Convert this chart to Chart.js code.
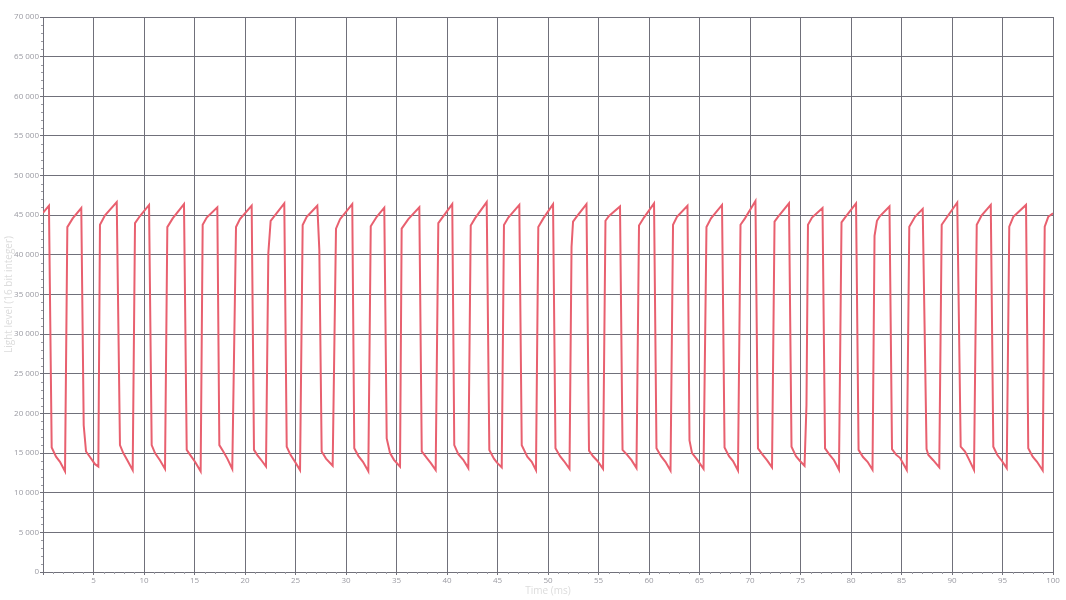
<!DOCTYPE html>
<html>
<head>
<meta charset="utf-8">
<script src="https://cdn.jsdelivr.net/npm/chart.js@4.4.0/dist/chart.umd.min.js"></script>
<style>
  html, body { margin: 0; padding: 0; background: #fff; }
  canvas { display: block; }
</style>
</head>
<body>
<canvas id="lightChart" width="1066" height="600"></canvas>
<script>
// sample times (ms)
const timeMs = [
  0, 0.59, 0.86, 1.29, 1.68, 2.18,
  2.41, 2.94, 3.79, 4.03, 4.26, 4.65, 5.15, 5.48,
  5.64, 6.14, 7.30, 7.62, 7.95, 8.35, 8.88,
  9.11, 9.60, 10.50, 10.76, 11.09, 11.58, 12.08,
  12.31, 12.84, 13.96, 14.23, 14.55, 15.05, 15.61,
  15.81, 16.21, 17.26, 17.46, 17.85, 18.25, 18.74,
  19.11, 19.50, 20.66, 20.89, 21.22, 21.68, 22.08,
  22.31, 22.54, 23.89, 24.13, 24.52, 24.95, 25.45,
  25.71, 26.11, 27.16, 27.36, 27.59, 28.02, 28.68,
  29.01, 29.41, 30.62, 30.82, 31.22, 31.68, 32.21,
  32.45, 33.04, 33.79, 34.03, 34.36, 34.75, 35.35,
  35.51, 36.17, 37.26, 37.50, 38.05, 38.42, 38.88,
  39.14, 39.48, 40.52, 40.72, 41.12, 41.61, 42.11,
  42.35, 42.77, 43.93, 44.19, 44.65, 44.95, 45.42,
  45.64, 46.07, 47.16, 47.40, 47.95, 48.39, 48.81,
  49.04, 49.54, 50.50, 50.74, 51.19, 51.58, 52.13,
  52.33, 52.48, 52.82, 53.81, 54.06, 54.46, 54.90, 55.45,
  55.69, 56.04, 57.13, 57.38, 57.82, 58.27, 58.76,
  59.01, 59.50, 60.50, 60.74, 61.19, 61.63, 62.13,
  62.38, 62.77, 63.81, 64.01, 64.26, 64.75, 65.40,
  65.69, 66.14, 67.23, 67.48, 67.92, 68.32, 68.81,
  69.06, 69.50, 70.54, 70.79, 71.24, 71.68, 72.18,
  72.43, 72.77, 73.86, 74.11, 74.55, 74.95, 75.40,
  75.59, 75.74, 76.14, 77.18, 77.43, 77.87, 78.32, 78.81,
  79.06, 79.46, 80.50, 80.75, 81.19, 81.64, 82.13,
  82.33, 82.57, 82.87, 83.81, 84.06, 84.46, 84.85, 85.52,
  85.77, 86.34, 87.10, 87.48, 87.66, 88.14, 88.74,
  88.98, 89.63, 90.52, 90.86, 91.29, 91.68, 92.18,
  92.45, 92.94, 93.84, 94.09, 94.49, 94.95, 95.42,
  95.67, 96.07, 97.33, 97.55, 97.99, 98.42, 98.98,
  99.18, 99.53, 100
];

// light level (16 bit integer)
const lightLevel = [
  45300, 46200, 15700, 14550, 13900, 12700,
  43500, 44600, 45900, 18500, 15200, 14500, 13600, 13300,
  43800, 45000, 46650, 16000, 15000, 14100, 12850,
  44000, 44900, 46300, 16000, 15000, 14100, 13000,
  43500, 44600, 46400, 15400, 14800, 13900, 12700,
  43800, 44700, 46000, 16000, 15200, 14300, 13000,
  43500, 44500, 46200, 15400, 14750, 14000, 13300,
  40200, 44300, 46500, 15800, 14750, 13900, 12850,
  43770, 44800, 46200, 40600, 15200, 14300, 13400,
  43300, 44500, 46400, 15600, 14650, 13900, 12700,
  43600, 44800, 45950, 16850, 15000, 14150, 13300,
  43300, 44500, 46000, 15200, 14300, 13700, 12850,
  44000, 44600, 46400, 16000, 14850, 14150, 13100,
  43700, 44600, 46650, 15400, 14300, 13800, 13200,
  43770, 44700, 46300, 16000, 14550, 13900, 12850,
  43500, 44600, 46400, 15600, 14600, 14000, 13000,
  41000, 44200, 44800, 46400, 15300, 14600, 14000, 13000,
  44300, 44900, 46100, 15400, 14800, 14100, 13100,
  43700, 44700, 46500, 15600, 14600, 13900, 12800,
  43800, 44800, 46200, 16600, 15000, 14200, 13000,
  43500, 44600, 46300, 15700, 14600, 14000, 12800,
  43800, 44600, 46800, 15600, 14800, 14100, 13200,
  44200, 44800, 46500, 15800, 14600, 14000, 13400,
  21000, 43800, 44700, 45900, 15600, 14800, 14100, 12900,
  44100, 44800, 46500, 15400, 14500, 13900, 12900,
  42400, 44300, 44900, 46100, 15500, 14800, 14400, 12870,
  43550, 44800, 45800, 15500, 14750, 14100, 13200,
  43800, 45000, 46600, 15800, 15200, 14200, 12870,
  43800, 45000, 46300, 15800, 14750, 14000, 13100,
  43550, 44800, 46300, 15600, 14550, 13900, 12800,
  43550, 44800, 45250
];

const xMin = 0, xMax = 100, xStep = 5, xMinorStep = 1;
const yMin = 0, yMax = 70000, yStep = 5000, yMinorStep = 1000;

const gridColor = '#70707a';
const tickFont = { family: "'Liberation Sans Narrow', 'Open Sans', sans-serif", size: 8 };
const titleFont = { family: "'Open Sans', sans-serif", size: 10 };

function spaced(v) {
  return String(v).replace(/\B(?=(\d{3})+(?!\d))/g, ' ');
}

// little minor ticks under the x axis and left of the y axis
const minorTicks = {
  id: 'minorTicks',
  afterDraw(chart) {
    const ctx = chart.ctx;
    const x = chart.scales.x, y = chart.scales.y;
    const area = chart.chartArea;
    ctx.save();
    ctx.strokeStyle = '#9a9aa2';
    ctx.lineWidth = 1;
    ctx.beginPath();
    for (let v = xMin; v <= xMax; v += xMinorStep) {
      if (v % xStep === 0) continue;
      const px = Math.round(x.getPixelForValue(v)) + 0.5;
      ctx.moveTo(px, area.bottom);
      ctx.lineTo(px, area.bottom + 2);
    }
    for (let v = yMin; v <= yMax; v += yMinorStep) {
      if (v % yStep === 0) continue;
      const py = Math.round(y.getPixelForValue(v)) + 0.5;
      ctx.moveTo(area.left, py);
      ctx.lineTo(area.left - 2, py);
    }
    ctx.stroke();
    ctx.restore();
  }
};

new Chart(document.getElementById('lightChart'), {
  type: 'scatter',
  data: {
    datasets: [{
      data: timeMs.map((t, i) => ({ x: t, y: lightLevel[i] })),
      showLine: true,
      borderColor: '#e8606f',
      backgroundColor: '#e8606f',
      borderWidth: 2,
      pointRadius: 0,
      tension: 0
    }]
  },
  options: {
    responsive: false,
    animation: false,
    layout: { padding: { top: 17, right: 13, left: 0, bottom: 0 } },
    scales: {
      x: {
        type: 'linear',
        min: xMin,
        max: xMax,
        afterFit: s => { s.height = 28; },
        ticks: {
          stepSize: xStep,
          autoSkip: false,
          maxRotation: 0,
          padding: 1,
          color: '#9a9aa2',
          font: tickFont,
          callback: v => (v === 0 ? '' : v)
        },
        grid: { color: gridColor, tickLength: 3 },
        border: { color: gridColor },
        title: { display: true, text: 'Time (ms)', color: '#dcdcdc', font: titleFont, padding: { top: 0, bottom: 3 } }
      },
      y: {
        min: yMin,
        max: yMax,
        afterFit: s => { s.width = 43; },
        ticks: {
          stepSize: yStep,
          padding: 1,
          color: '#9a9aa2',
          font: tickFont,
          callback: v => spaced(v)
        },
        grid: { color: gridColor, tickLength: 3 },
        border: { color: gridColor },
        title: { display: true, text: 'Light level (16 bit integer)', color: '#dcdcdc', font: titleFont, padding: { top: 3, bottom: 0 } }
      }
    },
    plugins: {
      legend: { display: false },
      tooltip: { enabled: false }
    }
  },
  plugins: [minorTicks]
});
</script>
</body>
</html>
